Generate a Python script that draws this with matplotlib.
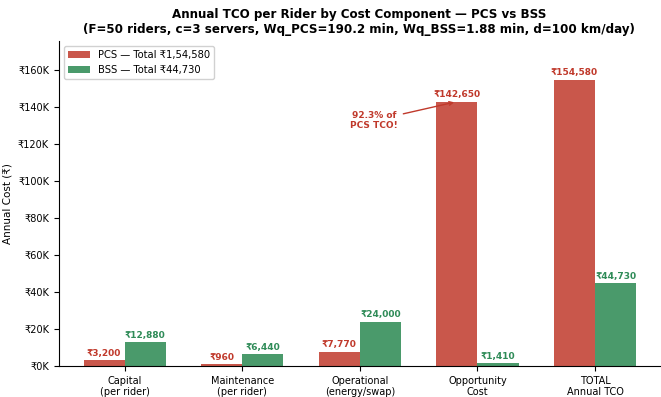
import numpy as np
import matplotlib
matplotlib.use("Agg")
import matplotlib.pyplot as plt
from matplotlib.ticker import FuncFormatter, MultipleLocator

plt.rcParams.update({"font.family": ["DejaVu Sans"], "font.size": 7})

# annual cost per rider, rupees
components = ["Capital\n(per rider)", "Maintenance\n(per rider)",
              "Operational\n(energy/swap)", "Opportunity\nCost", "TOTAL\nAnnual TCO"]
pcs_cost = [3200, 960, 7770, 142650, 154580]
bss_cost = [12880, 6440, 24000, 1410, 44730]
opp_share = 92.3  # opportunity cost share of PCS total, %

PCS_C, BSS_C = "#c9574b", "#4a9a6b"
PCS_T, BSS_T = "#c0392b", "#2e8b57"

fig = plt.figure(figsize=(6.61, 3.97), dpi=100)
ax = fig.add_axes([0.089, 0.078, 0.909, 0.819])

x = np.arange(len(components))
w = 0.35
ax.bar(x - w/2, pcs_cost, w, color=PCS_C, label="PCS — Total ₹1,54,580")
ax.bar(x + w/2, bss_cost, w, color=BSS_C, label="BSS — Total ₹44,730")

def rupee(v):
    return f"₹{v:,.0f}"

for xi, v in zip(x - w/2, pcs_cost):
    ax.text(xi, v + 1200, rupee(v), ha="center", va="bottom",
            fontsize=6.5, weight="bold", color=PCS_T)
for xi, v in zip(x + w/2, bss_cost):
    ax.text(xi, v + 1200, rupee(v), ha="center", va="bottom",
            fontsize=6.5, weight="bold", color=BSS_T)

ax.annotate(f"{opp_share}% of\nPCS TCO!", xy=(3 - w/2, pcs_cost[3]),
            xytext=(2.12, 132500), ha="center", va="center",
            fontsize=6.5, weight="bold", color=PCS_T,
            arrowprops=dict(arrowstyle="->", color=PCS_T, lw=1))

ax.set_xticks(x)
ax.set_xticklabels(components, fontsize=7)
ax.set_xlim(-0.56, 4.55)
ax.set_ylim(0, max(pcs_cost) * 1.135)
ax.yaxis.set_major_locator(MultipleLocator(20000))
ax.yaxis.set_major_formatter(FuncFormatter(lambda v, _: f"₹{v/1000:.0f}K"))
ax.tick_params(axis="y", labelsize=7)
ax.set_ylabel("Annual Cost (₹)", fontsize=7.5)
ax.spines[["top", "right"]].set_visible(False)

ax.set_title("Annual TCO per Rider by Cost Component — PCS vs BSS\n"
             "(F=50 riders, c=3 servers, Wq_PCS=190.2 min, Wq_BSS=1.88 min, d=100 km/day)",
             fontsize=8.6, weight="bold", pad=6)
ax.legend(loc="upper left", fontsize=7.2, framealpha=0.9, handlelength=2.2)

fig.savefig("out.png", dpi=100)
